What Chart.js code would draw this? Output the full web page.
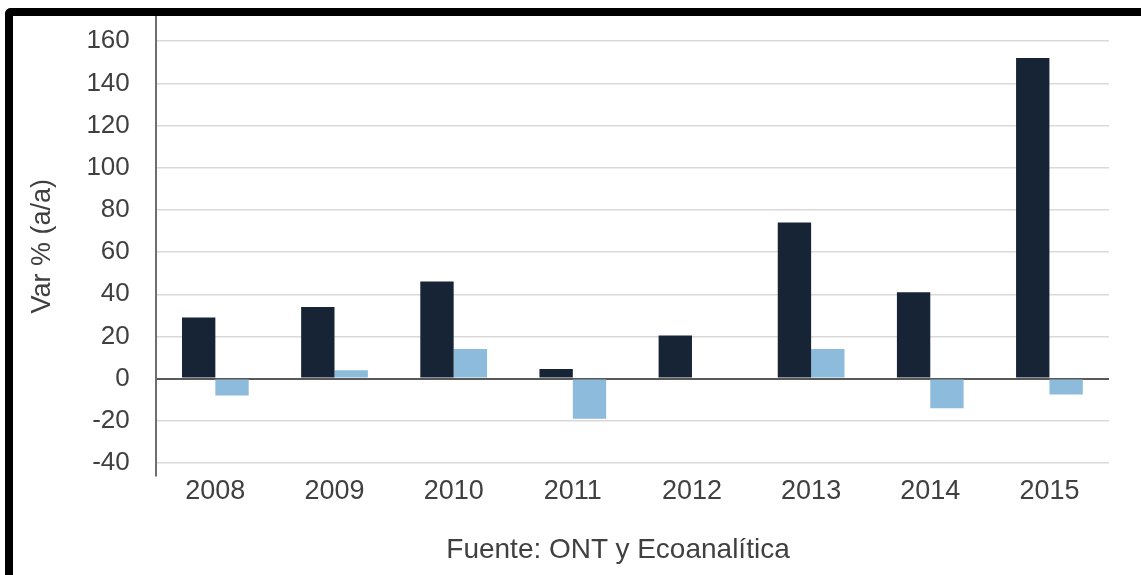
<!DOCTYPE html>
<html>
<head>
<meta charset="utf-8">
<script src="https://cdn.jsdelivr.net/npm/chart.js@4.4.1/dist/chart.umd.min.js"></script>
<style>
  body { margin: 0; background: #fff; }
  #wrap { position: relative; width: 1141px; height: 575px; overflow: hidden; }
  #c { position: absolute; left: 0; top: 0; }
  #frame {
    position: absolute; left: 5px; top: 8px; width: 1150px; height: 600px;
    border-top: 8px solid #000; border-left: 8px solid #000;
    border-top-left-radius: 6px; box-sizing: border-box; pointer-events: none;
  }
  #fuente {
    position: absolute; left: 318px; top: 535px; width: 600px; text-align: center;
    font: 28px "Liberation Sans", Arial, sans-serif; line-height: 28px; color: #404040;
  }
</style>
</head>
<body>
<div id="wrap">
  <canvas id="c" width="1141" height="575"></canvas>
  <div id="frame"></div>
  <div id="fuente">Fuente: ONT y Ecoanalítica</div>
</div>
<script>
const years = ["2008", "2009", "2010", "2011", "2012", "2013", "2014", "2015"]
const serie_oscura = [29, 34, 46, 4.5, 20.5, 74, 41, 152]
const serie_clara = [-8, 4, 14, -19, 0, 14, -14, -7.5]
const y_ticks = [-40, -20, 0, 20, 40, 60, 80, 100, 120, 140, 160]

const dark_hex = "#172435"
const light_hex = "#8dbbdb"
const txt_color = "#404040"
const font_name = "'Liberation Sans', Arial, sans-serif"

const canvas = document.getElementById("c")

const chart = new Chart(canvas.getContext("2d"), {
    type: "bar",
    data: {
        labels: years,
        datasets: [
            {data: serie_oscura, backgroundColor: dark_hex, borderWidth: 0},
            {data: serie_clara, backgroundColor: light_hex, borderWidth: 0}
        ]
    },
    options: {
        responsive: false,
        animation: false,
        devicePixelRatio: 1,
        categoryPercentage: 0.56,
        barPercentage: 1,
        layout: {padding: {top: 17, right: 32, bottom: 67, left: 26}},
        plugins: {
            legend: {display: false},
            tooltip: {enabled: false}
        },
        scales: {
            x: {
                grid: {display: false, drawTicks: false},
                border: {display: false},
                ticks: {
                    color: txt_color,
                    padding: 0,
                    font: {family: font_name, size: 27}
                }
            },
            y: {
                min: -46,
                max: 171.5,
                afterBuildTicks: axis => {
                    axis.ticks = y_ticks.map(v => ({value: v}))
                },
                grid: {
                    // invisible tick marks keep the labels away from the axis
                    drawTicks: true,
                    tickLength: 26,
                    tickColor: "rgba(0,0,0,0)",
                    color: c => c.tick && c.tick.value === 0 ? "#595959" : "#d9d9d9",
                    lineWidth: c => c.tick && c.tick.value === 0 ? 2 : 1.5
                },
                border: {display: true, color: "#6e6e6e", width: 2},
                ticks: {
                    color: txt_color,
                    padding: 0,
                    font: {family: font_name, size: 26}
                },
                title: {
                    display: true,
                    text: "Var % (a/a)",
                    color: txt_color,
                    padding: {top: 0, bottom: 28},
                    font: {family: font_name, size: 27}
                }
            }
        }
    }
})
</script>
</body>
</html>
